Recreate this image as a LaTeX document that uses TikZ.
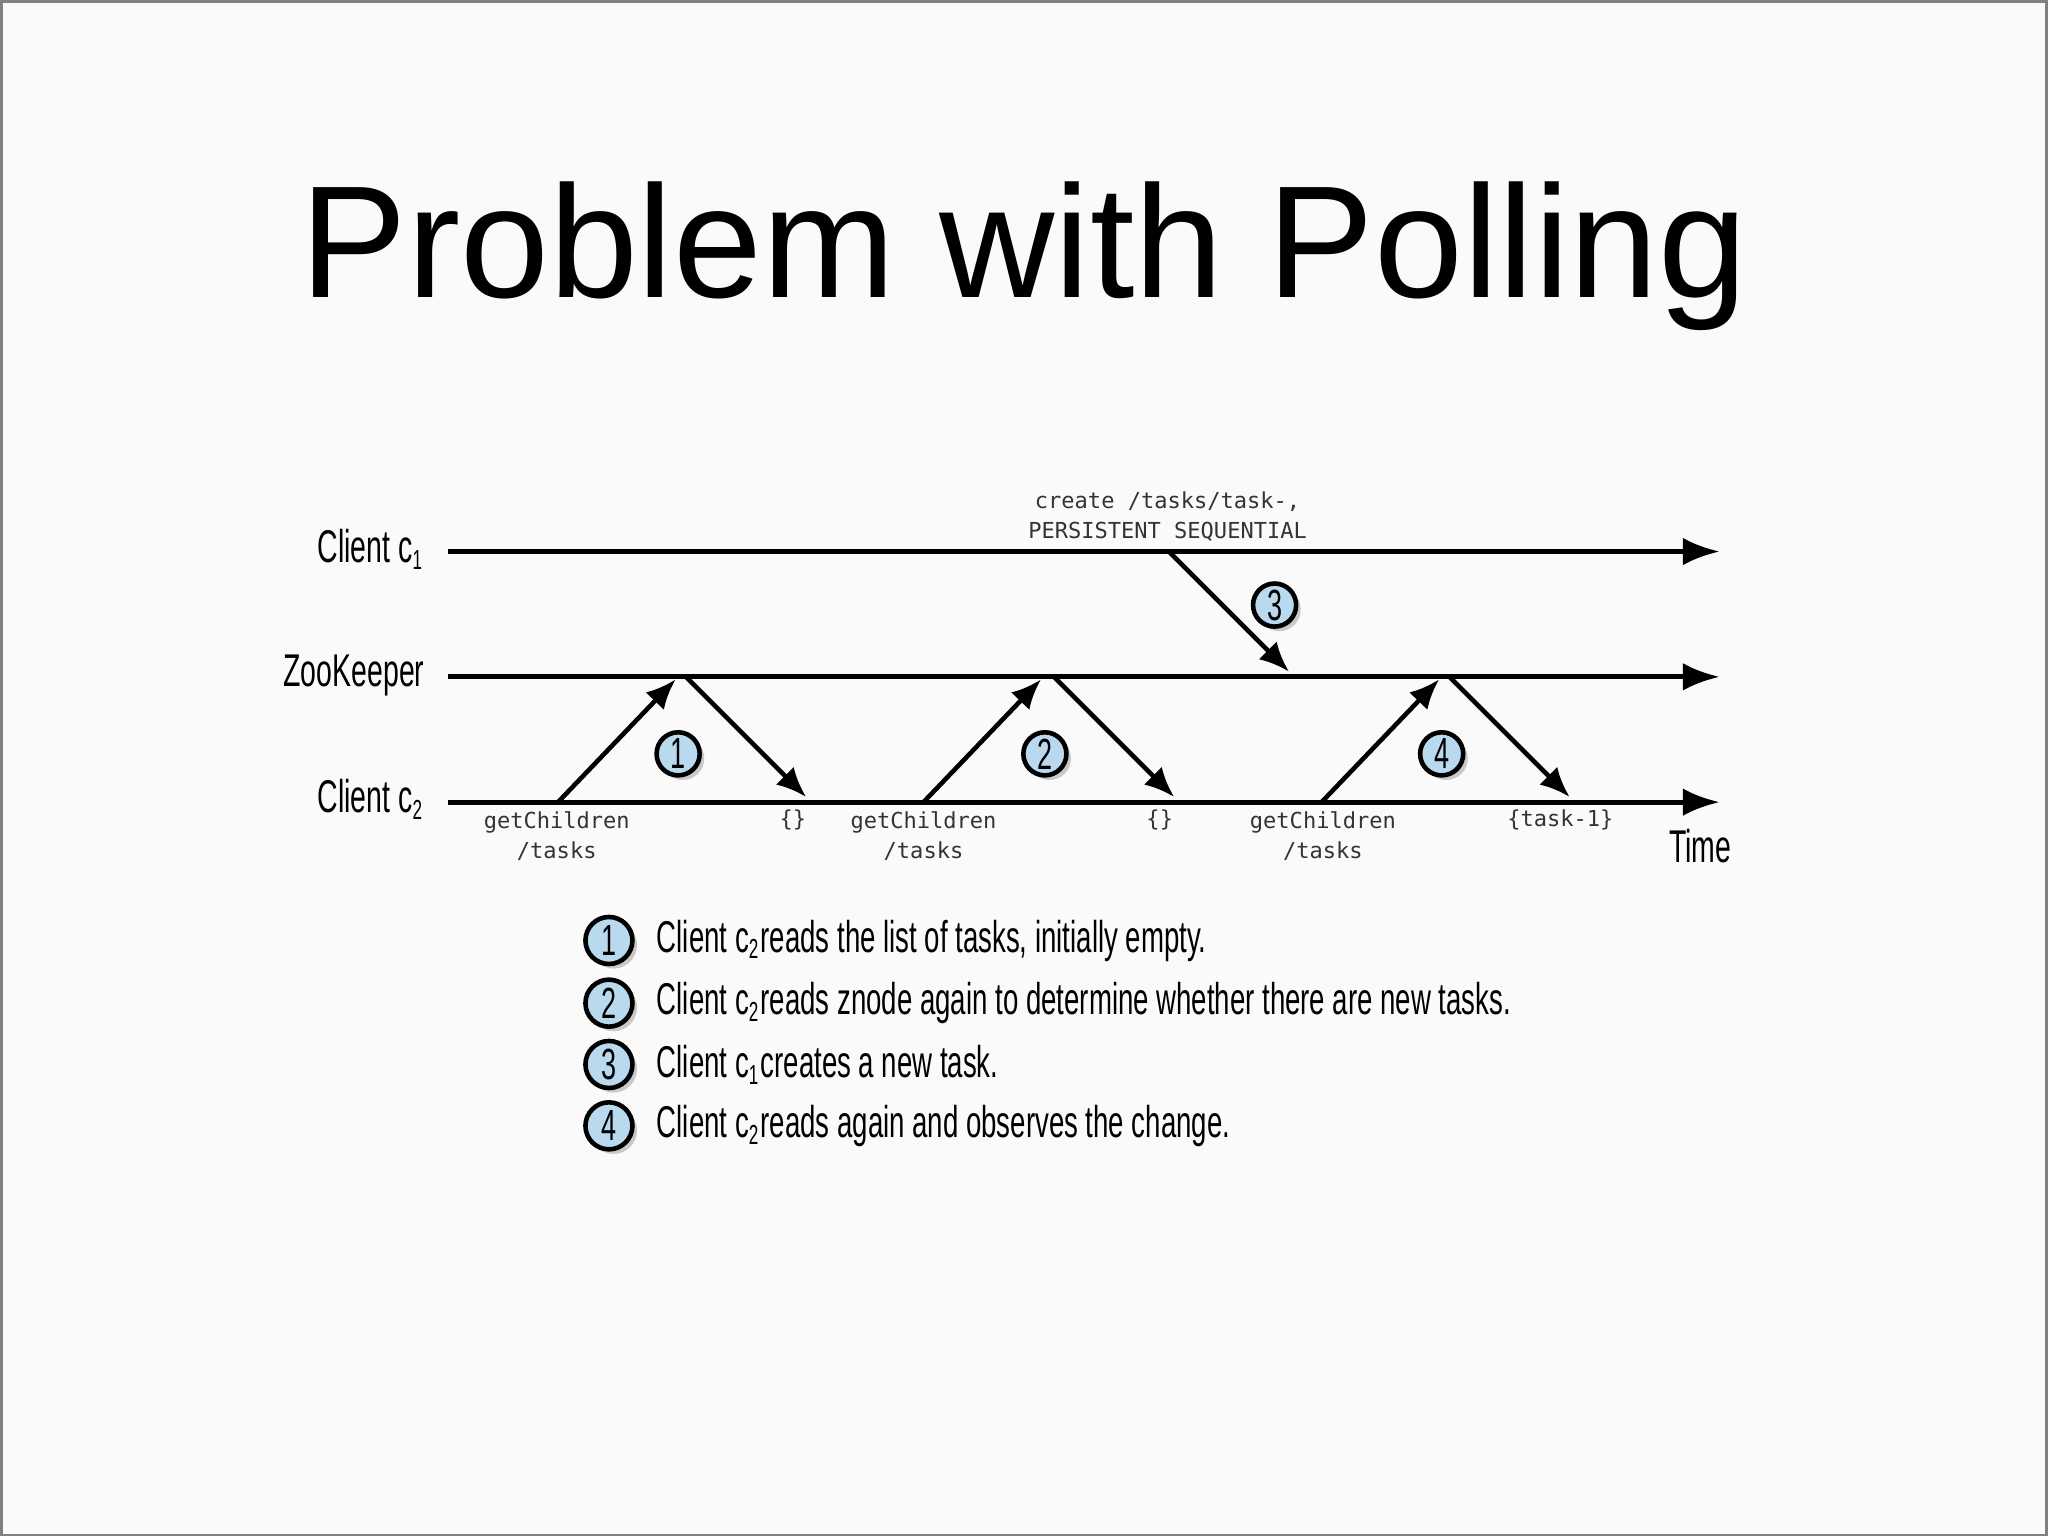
\documentclass[tikz,border=0pt]{standalone}
\usepackage{fontspec}
\setmainfont{Liberation Sans}
\newfontfamily\cond{Liberation Sans}[FakeStretch=0.62]
\newfontfamily\mono{DejaVu Sans Mono}
\usetikzlibrary{arrows.meta,shadows}
\definecolor{cb}{HTML}{B9D9EE}
\newcommand{\sbs}[1]{\textsubscript{\fontsize{6}{6}\selectfont #1}}
\begin{document}
\begin{tikzpicture}[x=0.01cm,y=-0.01cm,
  tl/.style={-{Latex[length=8pt,width=6pt]},line width=1.1pt},
  ml/.style={-{Latex[length=6.5pt,width=5.5pt]},line width=1pt},
  lab/.style={font=\cond\fontsize{10}{11}\selectfont,anchor=east},
  mt/.style={font=\mono\fontsize{4.8}{5.6}\selectfont,text=black!80,align=center,inner sep=0},
  num/.style={circle,draw,line width=1pt,fill=cb,minimum size=0.33cm,inner sep=0,font=\cond\fontsize{9.5}{10}\selectfont,drop shadow={shadow xshift=1pt,shadow yshift=-1pt,fill=black!40}},
  leg/.style={font=\cond\fontsize{9.7}{11}\selectfont,anchor=west,inner sep=0}]
\fill[white!98!black] (0,0) rectangle (1568,1176);
\draw[black!50,line width=0.6pt] (0.5,0.5) rectangle (1567.5,1175.5);
\node[font=\fontsize{34.8}{38}\selectfont] (title) at (784,196) {Problem with Polling};
% timelines
\node[lab] (c1) at (337,420) {Client c\sbs{1}};
\node[lab] (zk) at (337,517) {ZooKeeper};
\node[lab] (c2) at (337,612) {Client c\sbs{2}};
\coordinate (c1s) at (343,422); \coordinate (c1e) at (1317,422);
\coordinate (zks) at (343,518); \coordinate (zke) at (1317,518);
\coordinate (c2s) at (343,614); \coordinate (c2e) at (1317,614);
\draw[tl] (c1s) -- (c1e);
\draw[tl] (zks) -- (zke);
\draw[tl] (c2s) -- (c2e);
% message arrows
\coordinate (a0) at (895,422); \coordinate (a1) at (987,514);
\draw[ml] (a0) -- (a1);
\foreach \x/\y in {427/517,707/797,1012/1102}{
  \coordinate (p) at (\x,614); \coordinate (q) at (\y,520);
  \draw[ml] (p) -- (q);}
\foreach \x/\y in {525/617,807/899,1110/1202}{
  \coordinate (p) at (\x,518); \coordinate (q) at (\y,610);
  \draw[ml] (p) -- (q);}
\node[num] (n1) at (519,577) {1};
\node[num] (n2) at (800,577) {2};
\node[num] (n3) at (976,463) {3};
\node[num] (n4) at (1104,577) {4};
% mono labels
\node[mt] (g1) at (426,640) {getChildren\\[1pt]/tasks};
\node[mt] (g2) at (707,640) {getChildren\\[1pt]/tasks};
\node[mt] (g3) at (1013,640) {getChildren\\[1pt]/tasks};
\node[mt] (r1) at (607,628) {\{\}};
\node[mt] (r2) at (888,628) {\{\}};
\node[mt] (r3) at (1195,628) {\{task-1\}};
\node[mt] (cr) at (894,395) {create /tasks/task-,\\[1pt]PERSISTENT SEQUENTIAL};
\node[font=\cond\fontsize{10}{11}\selectfont] (time) at (1302,648) {Time};
% legend
\foreach \i/\y/\t in {1/720/{Client c\sbs{2}reads the list of tasks, initially empty.},
  2/768/{Client c\sbs{2}reads znode again to determine whether there are new tasks.},
  3/815/{Client c\sbs{1}creates a new task.},
  4/862/{Client c\sbs{2}reads again and observes the change.}}{
  \node[num,minimum size=0.36cm] (l\i) at (466,\y) {\i};
  \node[leg] (t\i) at (502,\y) {\t};}
\end{tikzpicture}
\end{document}
